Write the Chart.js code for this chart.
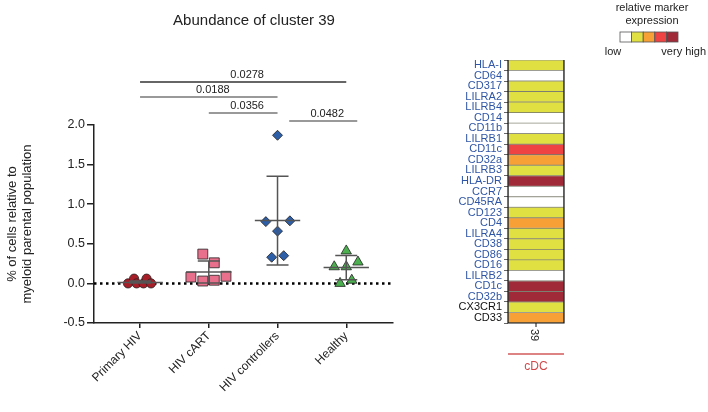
<!DOCTYPE html>
<html>
<head>
<meta charset="utf-8">
<script src="https://cdn.jsdelivr.net/npm/chart.js@4"></script>
<style>
  html, body { margin: 0; padding: 0; background: #fff; }
  #wrap { position: relative; width: 708px; height: 412px; overflow: hidden; }
  #scatter { position: absolute; left: 0; top: 0; }
  #heat { position: absolute; left: 440px; top: 0; }
</style>
</head>
<body>
<div id="wrap">
  <canvas id="scatter" width="440" height="412"></canvas>
  <canvas id="heat" width="268" height="412"></canvas>
</div>
<script>
const groups = ["Primary HIV", "HIV cART", "HIV controllers", "Healthy"];

const primaryHiv = [0.0, 0.06, 0.0, 0.0, 0.06, 0.0];
const hivCart = [0.08, 0.37, 0.03, 0.04, 0.26, 0.09];
const hivControllers = [0.33, 0.78, 1.87, 0.66, 0.35, 0.79];
const healthy = [0.21, 0.0, 0.41, 0.21, 0.04, 0.27];

// horizontal spread of the points inside a group (category units)
const jitterPrimary = [-0.175, -0.087, -0.05, 0.05, 0.095, 0.16];
const jitterCart = [-0.26, -0.087, -0.087, 0.08, 0.08, 0.25];
const jitterControllers = [-0.085, -0.17, 0, 0, 0.09, 0.18];
const jitterHealthy = [-0.175, -0.09, 0, 0, 0.08, 0.17];

const groupMeans = [0.01, 0.143, 0.793, 0.2];
const groupSd = [0.02, 0.14, 0.56, 0.153];

const yTicks = [-0.5, 0, 0.5, 1.0, 1.5, 2.0];

const bracketFrom = [0, 0, 1, 2.17];
const bracketTo = [3, 2, 2, 3.16];
const bracketLevel = [2.544, 2.354, 2.152, 2.05];
const bracketP = ["0.0278", "0.0188", "0.0356", "0.0482"];

const markers = ["HLA-I", "CD64", "CD317", "LILRA2", "LILRB4", "CD14", "CD11b", "LILRB1",
  "CD11c", "CD32a", "LILRB3", "HLA-DR", "CCR7", "CD45RA", "CD123", "CD4", "LILRA4",
  "CD38", "CD86", "CD16", "LILRB2", "CD1c", "CD32b", "CX3CR1", "CD33"];
const markerLevel = [1, 0, 1, 1, 1, 0, 0, 1, 3, 2, 1, 4, 0, 0, 1, 2, 1, 1, 1, 1, 0, 4, 4, 1, 2];
const levelColors = ["#ffffff", "#e0e042", "#f6a036", "#ef4242", "#a02a38"];
const blackMarkers = ["CX3CR1", "CD33"];

const FONT = "'Liberation Sans', Arial, sans-serif";
const X_MIN = -0.67, X_MAX = 3.68;

function pointsOf(values, jitter, g) {
  return values.map((v, i) => ({ x: g + jitter[i], y: v }));
}

function errorBarPoints(g) {
  let m = groupMeans[g], s = groupSd[g];
  let lo = Math.max(m - s, 0.005);
  return [
    { x: g - 0.33, y: m }, { x: g + 0.33, y: m }, { x: g, y: null },
    { x: g, y: lo }, { x: g, y: m + s }, { x: g, y: null },
    { x: g - 0.16, y: m + s }, { x: g + 0.16, y: m + s }, { x: g, y: null },
    { x: g - 0.16, y: lo }, { x: g + 0.16, y: lo }
  ];
}

let errorSets = groups.map((name, g) => ({
  type: "scatter",
  data: errorBarPoints(g),
  showLine: true,
  spanGaps: false,
  borderColor: "#555",
  borderWidth: 1.5,
  pointRadius: 0
}));

let bracketSets = bracketP.map((p, i) => ({
  type: "scatter",
  data: [{ x: bracketFrom[i], y: bracketLevel[i] }, { x: bracketTo[i], y: bracketLevel[i] }],
  showLine: true,
  clip: false,
  borderColor: i === 0 ? "#333" : "#777",
  borderWidth: 1.5,
  pointRadius: 0
}));

let pointSets = [
  { data: pointsOf(primaryHiv, jitterPrimary, 0), pointStyle: "circle", pointRadius: 4.6, pointBackgroundColor: "#a81e28" },
  { data: pointsOf(hivCart, jitterCart, 1), pointStyle: "rect", pointRadius: 7, pointBackgroundColor: "#e8708c" },
  { data: pointsOf(hivControllers, jitterControllers, 2), pointStyle: "rectRot", pointRadius: 5, pointBackgroundColor: "#2d5ea8" },
  { data: pointsOf(healthy, jitterHealthy, 3), pointStyle: "triangle", pointRadius: 6, pointBackgroundColor: "#4caf50" }
].map(d => Object.assign({
  type: "scatter",
  pointBorderColor: "#222",
  pointBorderWidth: 0.8,
  pointHoverRadius: 0,
  showLine: false
}, d));

let zeroLine = {
  type: "scatter",
  data: [{ x: X_MIN, y: 0 }, { x: X_MAX, y: 0 }],
  showLine: true,
  borderColor: "#000",
  borderWidth: 2.5,
  borderDash: [2.5, 3.5],
  pointRadius: 0
};

const scatterText = {
  id: "scatterText",
  afterDraw(chart) {
    let ctx = chart.ctx;
    let xs = chart.scales.x, ys = chart.scales.y;
    ctx.save();
    ctx.fillStyle = "#222";
    ctx.textAlign = "center";
    ctx.textBaseline = "middle";
    ctx.font = "15px " + FONT;
    ctx.fillText("Abundance of cluster 39", 254, 21);
    ctx.font = "11px " + FONT;
    bracketP.forEach((p, i) => {
      let cx = (xs.getPixelForValue(bracketFrom[i]) + xs.getPixelForValue(bracketTo[i])) / 2;
      ctx.fillText(p, cx + 4, ys.getPixelForValue(bracketLevel[i]) - 7);
    });
    ctx.restore();
  }
};

new Chart(document.getElementById("scatter"), {
  type: "scatter",
  data: { datasets: [...errorSets, ...pointSets, zeroLine, ...bracketSets] },
  options: {
    responsive: false,
    animation: false,
    layout: { padding: { top: 125, right: 47, bottom: 0, left: 0 } },
    plugins: { legend: { display: false }, tooltip: { enabled: false } },
    scales: {
      x: {
        type: "linear",
        min: X_MIN,
        max: X_MAX,
        afterBuildTicks: scale => { scale.ticks = groups.map((g, i) => ({ value: i })); },
        afterFit: scale => { scale.height = 89; },
        ticks: {
          callback: value => groups[value],
          minRotation: 45,
          maxRotation: 45,
          padding: 1,
          color: "#222",
          font: { family: FONT, size: 12 }
        },
        grid: { display: true, drawOnChartArea: false, drawTicks: true, tickLength: 5, color: "#222", lineWidth: 1.5 },
        border: { display: true, color: "#222", width: 1.5 }
      },
      y: {
        min: -0.5,
        max: 2.0,
        afterBuildTicks: scale => { scale.ticks = yTicks.map(v => ({ value: v })); },
        afterFit: scale => { scale.width = 94; },
        ticks: {
          callback: value => value.toFixed(1),
          padding: 2,
          color: "#222",
          font: { family: FONT, size: 12.5 }
        },
        grid: { display: true, drawOnChartArea: false, drawTicks: true, tickLength: 7, color: "#222", lineWidth: 1.5 },
        border: { display: true, color: "#222", width: 1.5 },
        title: {
          display: true,
          text: ["% of cells relative to", "myeloid parental population"],
          color: "#222",
          font: { family: FONT, size: 13, lineHeight: 1.15 },
          padding: { top: 5, bottom: 0 }
        }
      }
    }
  },
  plugins: [scatterText]
});

// ---- heatmap ----
const heatExtras = {
  id: "heatExtras",
  afterDraw(chart) {
    let ctx = chart.ctx;
    let a = chart.chartArea;
    ctx.save();
    ctx.strokeStyle = "#111";
    ctx.lineWidth = 1.2;
    ctx.beginPath();
    ctx.moveTo(a.left, a.top);
    ctx.lineTo(a.left, a.bottom);
    ctx.lineTo(a.right, a.bottom);
    ctx.lineTo(a.right, a.top);
    ctx.stroke();

    let cx = (a.left + a.right) / 2;
    ctx.lineWidth = 1;
    ctx.beginPath();
    ctx.moveTo(cx, a.bottom);
    ctx.lineTo(cx, a.bottom + 4);
    ctx.stroke();

    ctx.fillStyle = "#222";
    ctx.font = "11px " + FONT;
    ctx.save();
    ctx.translate(cx - 2, a.bottom + 12);
    ctx.rotate(Math.PI / 2);
    ctx.textAlign = "center";
    ctx.textBaseline = "middle";
    ctx.fillText("39", 0, 0);
    ctx.restore();

    ctx.strokeStyle = "#d25a5a";
    ctx.lineWidth = 1.3;
    ctx.beginPath();
    ctx.moveTo(a.left, 354);
    ctx.lineTo(a.right, 354);
    ctx.stroke();
    ctx.fillStyle = "#d0484a";
    ctx.font = "12px " + FONT;
    ctx.textAlign = "center";
    ctx.textBaseline = "middle";
    ctx.fillText("cDC", cx, 367);

    // colour key
    ctx.fillStyle = "#222";
    ctx.font = "11px " + FONT;
    ctx.fillText("relative marker", 212, 8);
    ctx.fillText("expression", 212, 21);
    let bw = 11.6, bx = 180;
    levelColors.forEach((c, i) => {
      ctx.fillStyle = c;
      ctx.fillRect(bx + i * bw, 32, bw, 10);
      ctx.strokeStyle = "#555";
      ctx.lineWidth = 0.8;
      ctx.strokeRect(bx + i * bw, 32, bw, 10);
    });
    ctx.fillStyle = "#222";
    ctx.fillText("low", 173, 52);
    ctx.textAlign = "right";
    ctx.fillText("very high", 266, 52);
    ctx.restore();
  }
};

new Chart(document.getElementById("heat"), {
  type: "bar",
  data: {
    labels: markers,
    datasets: [{
      data: markers.map(() => 1),
      backgroundColor: markerLevel.map(l => levelColors[l]),
      borderColor: "rgba(70,70,50,0.55)",
      borderWidth: 0.8,
      borderSkipped: false,
      barPercentage: 1,
      categoryPercentage: 1
    }]
  },
  options: {
    indexAxis: "y",
    responsive: false,
    animation: false,
    layout: { padding: { top: 60, right: 144, bottom: 89, left: 0 } },
    plugins: { legend: { display: false }, tooltip: { enabled: false } },
    scales: {
      x: { display: false, min: 0, max: 1 },
      y: {
        afterFit: scale => { scale.width = 68; },
        ticks: {
          autoSkip: false,
          padding: 2,
          color: ctx => blackMarkers.includes(markers[ctx.index]) ? "#111" : "#2f56a6",
          font: { family: FONT, size: 11 }
        },
        grid: { display: true, drawOnChartArea: false, drawTicks: true, tickLength: 4, color: "#666" },
        border: { display: false }
      }
    }
  },
  plugins: [heatExtras]
});
</script>
</body>
</html>
